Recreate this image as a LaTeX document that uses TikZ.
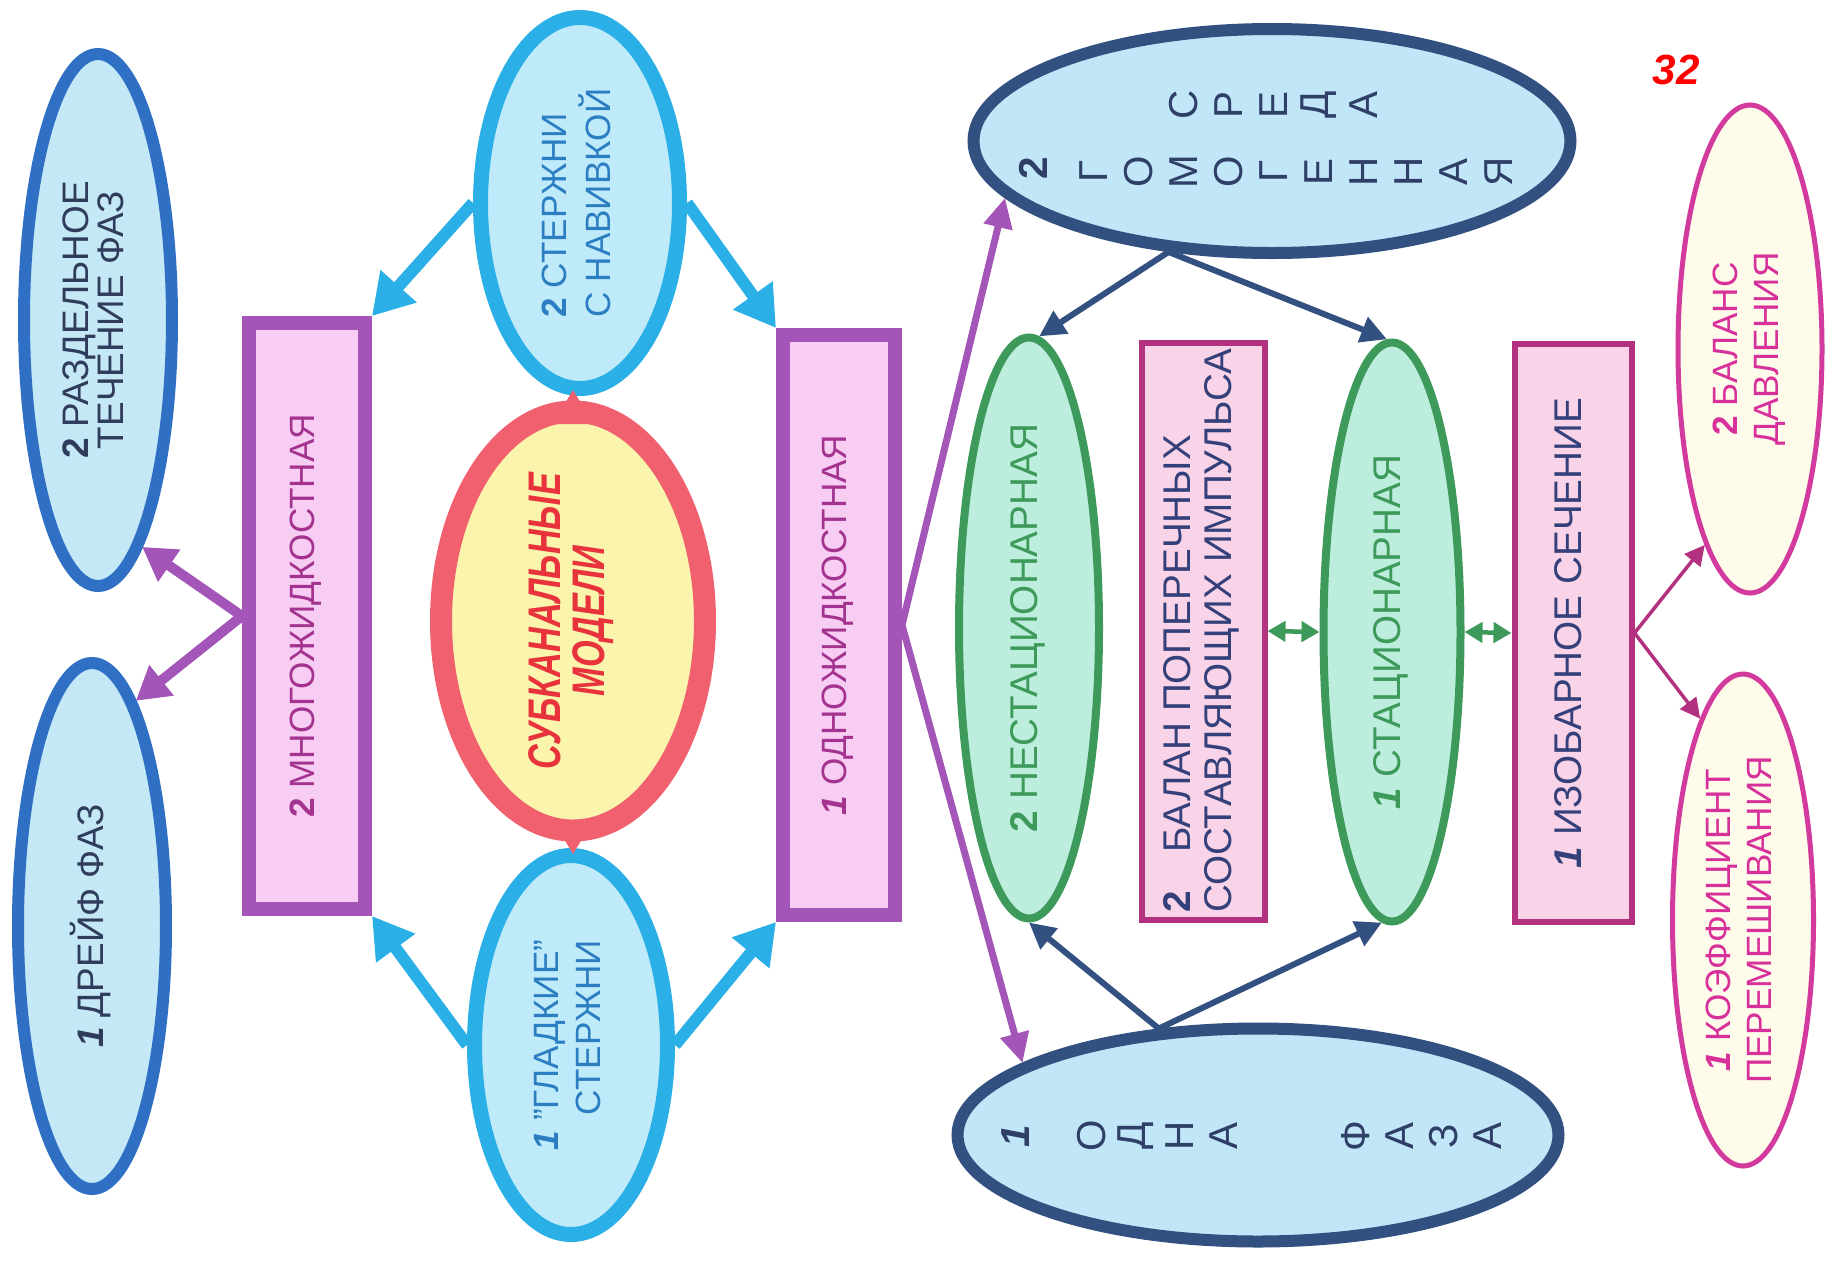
\documentclass[tikz,border=0pt]{standalone}
\usepackage{fontspec}
\setmainfont{Liberation Sans}
\usepackage{graphicx}
\usetikzlibrary{arrows.meta,shapes.geometric}
\definecolor{phaseblue}{RGB}{47,111,196}
\definecolor{phasefill}{RGB}{196,232,246}
\definecolor{phasetext}{RGB}{48,60,92}
\definecolor{rodcyan}{RGB}{42,176,230}
\definecolor{rodfill}{RGB}{190,234,249}
\definecolor{rodtext}{RGB}{44,126,194}
\definecolor{fluidpurple}{RGB}{163,86,184}
\definecolor{fluidfill}{RGB}{247,205,243}
\definecolor{fluidtext}{RGB}{163,51,142}
\definecolor{subred}{RGB}{240,96,110}
\definecolor{subfill}{RGB}{250,244,172}
\definecolor{subtext}{RGB}{232,50,60}
\definecolor{mediumblue}{RGB}{50,80,128}
\definecolor{mediumfill}{RGB}{192,230,247}
\definecolor{mediumtext}{RGB}{47,63,104}
\definecolor{modegreen}{RGB}{62,154,90}
\definecolor{modefill}{RGB}{189,238,221}
\definecolor{balmagenta}{RGB}{179,50,127}
\definecolor{balfill}{RGB}{249,211,232}
\definecolor{baltext}{RGB}{52,64,122}
\definecolor{coefpink}{RGB}{210,58,158}
\definecolor{coeffill}{RGB}{254,251,234}
\definecolor{coeftext}{RGB}{216,48,154}

\newcommand{\vlines}[3]{\rotatebox{90}{\def\arraystretch{#2}\begin{tabular}{@{}#1@{}}#3\end{tabular}}}
\newcommand{\numone}{\textbf{\textit{1}}}
\newcommand{\numtwo}{\textbf{2}}

\begin{document}
\begin{tikzpicture}[
      x=0.1mm,y=-0.1mm,
      every node/.style={inner sep=0pt, font=\fontsize{10}{10}\selectfont},
      phase/.style={ellipse, draw=phaseblue, line width=1.2mm, fill=phasefill, text=phasetext, minimum width=14.8mm, font=\fontsize{10.5}{10}\selectfont},
      rod/.style={ellipse, draw=rodcyan, line width=1.5mm, fill=rodfill, text=rodtext},
      fluid/.style={rectangle, draw=fluidpurple, line width=1.4mm, fill=fluidfill, text=fluidtext},
      subch/.style={ellipse, draw=subred, line width=2.2mm, fill=subfill, text=subtext, font=\fontsize{13}{13}\selectfont\bfseries\itshape},
      medium/.style={ellipse, draw=mediumblue, line width=1.2mm, fill=mediumfill},
      letter/.style={rotate=90, text=mediumtext, font=\fontsize{11.5}{11.5}\selectfont},
      mode/.style={ellipse, draw=modegreen, line width=0.8mm, fill=modefill, text=modegreen, font=\fontsize{11}{10}\selectfont},
      balance/.style={rectangle, draw=balmagenta, line width=0.6mm, fill=balfill, text=baltext, font=\fontsize{11}{10}\selectfont},
      coef/.style={ellipse, draw=coefpink, line width=0.5mm, fill=coeffill, text=coeftext},
      rodarrow/.style={draw=rodcyan, line width=1.2mm, -{Triangle[length=4mm,width=4.6mm]}},
      fluidarrow/.style={draw=fluidpurple, line width=1mm, -{Triangle[length=3.3mm,width=3.7mm]}},
      fluidthin/.style={draw=fluidpurple, line width=0.7mm, -{Triangle[length=3mm,width=2.8mm]}},
      mediumarrow/.style={draw=mediumblue, line width=0.6mm, -{Triangle[length=2.6mm,width=2.6mm]}},
      modearrow/.style={draw=modegreen, line width=0.45mm, {Triangle[length=1.8mm,width=2mm]}-{Triangle[length=1.8mm,width=2mm]}},
      coefarrow/.style={draw=balmagenta, line width=0.35mm, -{Triangle[length=2mm,width=2mm]}},
      subtip/.style={draw=subred, line width=0.4mm, shorten >=-0.6mm, -{Triangle[length=3.4mm,width=4mm]}}
    ]
      \fill[white] (0,0) rectangle (1831,1260);
      \useasboundingbox (0,0) rectangle (1831,1260);
      % left column
      \node[phase, minimum height=53.2mm] (razd) at (98,320) {\vlines{c}{0.93}{\numtwo{} РАЗДЕЛЬНОЕ\\ТЕЧЕНИЕ ФАЗ}};
      \node[phase, minimum height=52.6mm] (drejf) at (92,926) {\vlines{c}{1}{\numone{} ДРЕЙФ ФАЗ}};
      \node[fluid, minimum width=11.6mm, minimum height=58.6mm] (mnogo) at (307,616) {\vlines{c}{1}{\numtwo{} МНОГОЖИДКОСТНАЯ}};
      \node[rod, minimum width=19.9mm, minimum height=37.1mm] (navivka) at (580,203) {\vlines{l}{1.16}{\numtwo{} СТЕРЖНИ\\С НАВИВКОЙ}};
      \node[rod, minimum width=19.3mm, minimum height=37.9mm] (gladkie) at (571,1045) {\vlines{r}{1.2}{\numone{} "ГЛАДКИЕ"\\СТЕРЖНИ}};
      \node[subch, minimum width=26.4mm, minimum height=38.1mm] (sub) at (573,621) {\rotatebox{90}{\scalebox{0.75}[1]{\def\arraystretch{0.9}\begin{tabular}{@{}c@{}}СУБКАНАЛЬНЫЕ\\МОДЕЛИ\end{tabular}}}};
      \node[fluid, minimum width=11.2mm, minimum height=58mm] (odno) at (839,625) {\vlines{c}{1}{\numone{} ОДНОЖИДКОСТНАЯ}};
      % right part
      \node[medium, minimum width=59.7mm, minimum height=22.4mm] (sreda) at (1272,141) {};
      \node[medium, minimum width=60.1mm, minimum height=21.3mm] (faza) at (1258,1135) {};
      \node[letter] (sreda-n) at (1033,168) {\numtwo};
      \foreach \ch [count=\k from 0] in {Г,О,М,О,Г,Е,Н,Н,А,Я}
        \node[letter] (gomo-\k) at (1094+45*\k,172) {\ch};
      \foreach \ch [count=\k from 2] in {С,Р,Е,Д,А}
        \node[letter] (sred-\k) at (1094+45*\k,105) {\ch};
      \node[letter] (faza-n) at (1016,1136) {\numone};
      \foreach \ch [count=\k from 0] in {О,Д,Н,А}
        \node[letter] (odna-\k) at (1092+44*\k,1136) {\ch};
      \foreach \ch [count=\k from 6] in {Ф,А,З,А}
        \node[letter] (fazaw-\k) at (1092+44*\k,1136) {\ch};
      \node[mode, minimum width=14mm, minimum height=58.1mm] (nestac) at (1029,628) {\vlines{c}{1}{\numtwo{} НЕСТАЦИОНАРНАЯ}};
      \node[balance, minimum width=12.3mm, minimum height=57.7mm] (balan) at (1203,631) {\vlines{l}{1.16}{\numtwo\quad БАЛАН ПОПЕРЕЧНЫХ\\СОСТАВЛЯЮЩИХ ИМПУЛЬСА}};
      \node[mode, minimum width=13.7mm, minimum height=57.9mm] (stac) at (1392,632) {\vlines{c}{1}{\numone{} СТАЦИОНАРНАЯ}};
      \node[balance, minimum width=11.7mm, minimum height=57.8mm] (izobar) at (1573,633) {\vlines{c}{1}{\numone{} ИЗОБАРНОЕ СЕЧЕНИЕ}};
      \node[coef, minimum width=14.4mm, minimum height=48.8mm] (davl) at (1750,349) {\vlines{c}{1.15}{\numtwo{} БАЛАНС\\ДАВЛЕНИЯ}};
      \node[coef, minimum width=14.1mm, minimum height=49.2mm] (koef) at (1743,920) {\vlines{c}{1.15}{\numone{} КОЭФФИЦИЕНТ\\ПЕРЕМЕШИВАНИЯ}};
      \node[text=red, font=\fontsize{12}{12}\selectfont\bfseries\itshape] (page) at (1676,70) {32};
      % arrows
      \draw[rodarrow] (navivka.west) -- (mnogo.north east);
      \draw[rodarrow] (navivka.east) -- (odno.north west);
      \draw[rodarrow] (gladkie.west) -- (mnogo.south east);
      \draw[rodarrow] (gladkie.east) -- (odno.south west);
      \draw[subtip] ([yshift=-2mm]sub.north) -- (navivka.south -| sub.north);
      \draw[subtip] ([yshift=2mm]sub.south) -- (gladkie.north -| sub.south);
      \draw[fluidarrow] (mnogo.west) -- (razd.-79);
      \draw[fluidarrow] (mnogo.west) -- (drejf.79);
      \draw[fluidthin] (odno.east) -- (sreda.192);
      \draw[fluidthin] (odno.east) -- (faza.163);
      \draw[mediumarrow] (sreda.-133) -- (nestac.88);
      \draw[mediumarrow] (sreda.-133) -- (stac.91);
      \draw[mediumarrow] (faza.133) -- (nestac.-90);
      \draw[mediumarrow] (faza.133) -- (stac.-92);
      \draw[modearrow] (balan.east) -- (stac.west);
      \draw[modearrow] (stac.east) -- (izobar.west);
      \draw[coefarrow] (izobar.east) -- (davl.-103);
      \draw[coefarrow] (izobar.east) -- (koef.102);
    \end{tikzpicture}
\end{document}
